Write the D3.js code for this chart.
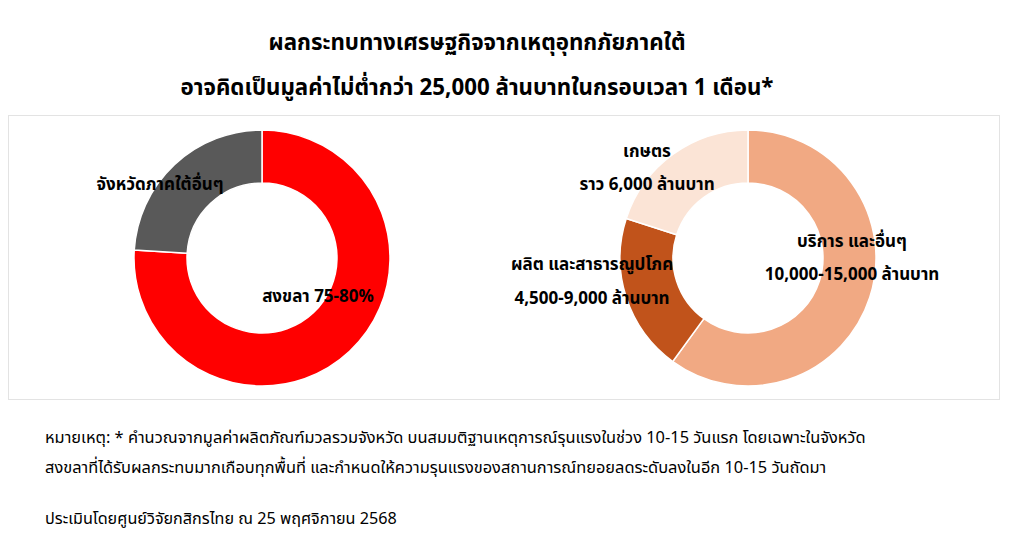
<!DOCTYPE html>
<html lang="th">
<head>
<meta charset="utf-8">
<script src="https://cdn.jsdelivr.net/npm/d3@7"></script>
<style>
  html, body { margin: 0; padding: 0; background: #fff; }
  svg { display: block; }
  text { font-family: "Noto Sans Thai", "Noto Sans Thai UI", "Loma", "Garuda", "Tlwg Typo", "DejaVu Sans", sans-serif; fill: #000; }
</style>
</head>
<body>
<svg id="chart" width="1024" height="535"></svg>
<script>
// Share of the flood's economic impact by province (percent)
const provinceNames = ["สงขลา", "จังหวัดภาคใต้อื่นๆ"];
const provinceShares = [76, 24];
const provinceColors = ["#ff0000", "#595959"];

// Share of the impact by sector (percent)
const sectorNames = ["บริการ และอื่นๆ", "ผลิต และสาธารณูปโภค", "เกษตร"];
const sectorShares = [60, 20, 20];
const sectorColors = ["#f1a983", "#c1531b", "#fbe4d6"];

// Label lines for each slice
const provinceLabels = [["สงขลา 75-80%"], ["จังหวัดภาคใต้อื่นๆ"]];
const sectorLabels = [
  ["บริการ และอื่นๆ", "10,000-15,000 ล้านบาท"],
  ["ผลิต และสาธารณูปโภค", "4,500-9,000 ล้านบาท"],
  ["เกษตร", "ราว 6,000 ล้านบาท"]
];

const titleLines = [
  "ผลกระทบทางเศรษฐกิจจากเหตุอุทกภัยภาคใต้",
  "อาจคิดเป็นมูลค่าไม่ต่ำกว่า 25,000 ล้านบาทในกรอบเวลา 1 เดือน*"
];
const noteLines = [
  "หมายเหตุ: * คำนวณจากมูลค่าผลิตภัณฑ์มวลรวมจังหวัด บนสมมติฐานเหตุการณ์รุนแรงในช่วง 10-15 วันแรก โดยเฉพาะในจังหวัด",
  "สงขลาที่ได้รับผลกระทบมากเกือบทุกพื้นที่ และกำหนดให้ความรุนแรงของสถานการณ์ทยอยลดระดับลงในอีก 10-15 วันถัดมา"
];
const sourceLine = "ประเมินโดยศูนย์วิจัยกสิกรไทย ณ 25 พฤศจิกายน 2568";

const svg = d3.select("#chart");

// Title
svg.selectAll("text.title")
  .data(titleLines)
  .join("text")
  .attr("class", "title")
  .attr("x", 477)
  .attr("y", (d, i) => 43 + i * 45)
  .attr("text-anchor", "middle")
  .attr("dominant-baseline", "central")
  .attr("font-size", 22.3)
  .attr("font-weight", "bold")
  .text(d => d);

// Panel frame around both donuts
svg.append("rect")
  .attr("x", 8.5).attr("y", 115.5)
  .attr("width", 991).attr("height", 284)
  .attr("fill", "none")
  .attr("stroke", "#e3e3e3")
  .attr("stroke-width", 1);

const innerR = 75, outerR = 128;
const pie = d3.pie().sort(null).value(d => d);
const arc = d3.arc().innerRadius(innerR).outerRadius(outerR);

function donut(cx, cy, values, colors, labels, labelPos) {
  const g = svg.append("g").attr("transform", `translate(${cx},${cy})`);
  g.selectAll("path")
    .data(pie(values))
    .join("path")
    .attr("d", arc)
    .attr("fill", (d, i) => colors[i])
    .attr("stroke", "#fff")
    .attr("stroke-width", 1.5);
  labels.forEach((lines, i) => {
    const [lx, ly, gap] = labelPos[i];
    g.append("text")
      .attr("x", lx)
      .attr("text-anchor", "middle")
      .attr("font-size", 17)
      .attr("font-weight", "bold")
      .selectAll("tspan")
      .data(lines)
      .join("tspan")
      .attr("x", lx)
      .attr("y", (d, j) => ly + j * gap)
      .attr("dominant-baseline", "central")
      .text(d => d);
  });
}

donut(262, 258, provinceShares, provinceColors, provinceLabels,
  [[56, 39, 0], [-102, -73, 0]]);
donut(748, 258, sectorShares, sectorColors, sectorLabels,
  [[104, -16, 33], [-156, 7, 34], [-101, -106, 33]]);

// Footnote and source
svg.selectAll("text.note")
  .data(noteLines)
  .join("text")
  .attr("class", "note")
  .attr("x", 45)
  .attr("y", (d, i) => 438 + i * 30)
  .attr("dominant-baseline", "central")
  .attr("font-size", 16.4)
  .text(d => d);

svg.append("text")
  .attr("x", 45)
  .attr("y", 519)
  .attr("dominant-baseline", "central")
  .attr("font-size", 16.2)
  .text(sourceLine);
</script>
</body>
</html>
